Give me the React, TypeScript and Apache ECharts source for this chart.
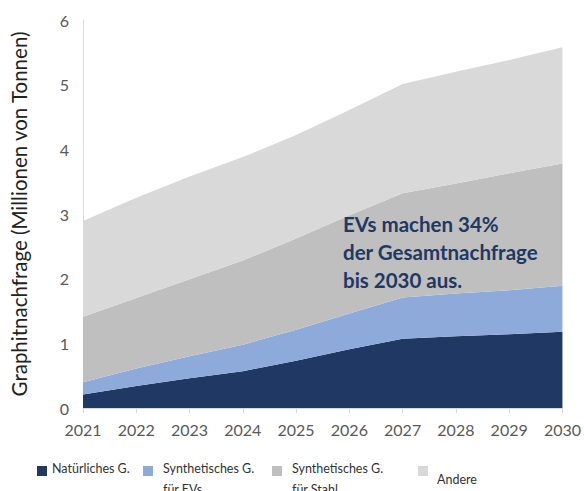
import React, { useEffect, useRef } from "react";
import * as echarts from "echarts";

const years = ["2021", "2022", "2023", "2024", "2025", "2026", "2027", "2028", "2029", "2030"];
// Per-series values (stacked), in millions of tonnes
const natural = [0.21, 0.34, 0.46, 0.57, 0.73, 0.91, 1.07, 1.11, 1.14, 1.18];
const syntheticEV = [0.19, 0.27, 0.34, 0.41, 0.48, 0.55, 0.64, 0.66, 0.68, 0.71];
const syntheticSteel = [1.01, 1.09, 1.19, 1.30, 1.41, 1.52, 1.61, 1.70, 1.81, 1.89];
const others = [1.48, 1.55, 1.59, 1.60, 1.60, 1.63, 1.69, 1.73, 1.75, 1.80];

const seriesNames = ["Natürliches G.", "Synthetisches G.\nfür EVs", "Synthetisches G.\nfür Stahl", "Andere"];
const colors = ["#203864", "#8eaadb", "#bfbfbf", "#d9d9d9"];
const annotation = "EVs machen 34%\nder Gesamtnachfrage\nbis 2030 aus.";

const FONT = "Lato";

export default function App() {
  const ref = useRef<HTMLDivElement>(null);
  useEffect(() => {
    if (!ref.current) return;
    const chart = echarts.init(ref.current, null, { renderer: "svg" });
    const data = [natural, syntheticEV, syntheticSteel, others];
    const legendX = [[37, 52], [143, 163], [272, 292], [418, 437]];
    const legendGraphics: any[] = [];
    seriesNames.forEach((n, i) => {
      legendGraphics.push({
        type: "rect",
        left: legendX[i][0],
        top: 466,
        shape: { width: 10, height: 10 },
        style: { fill: colors[i] },
      });
      legendGraphics.push({
        type: "text",
        left: legendX[i][1],
        top: i === 3 ? 469 : 458,
        style: {
          text: n,
          fill: "#333333",
          font: `12.5px ${FONT}`,
          lineHeight: 21,
        },
      });
    });
    chart.setOption({
      animation: false,
      textStyle: { fontFamily: FONT },
      grid: { left: 80, right: 21, top: 20, bottom: 83 },
      xAxis: {
        type: "category",
        data: years,
        boundaryGap: false,
        axisLine: { lineStyle: { color: "#d9d9d9", width: 1 } },
        axisTick: { show: true, length: 5, lineStyle: { color: "#d9d9d9" } },
        axisLabel: { color: "#595959", fontSize: 16, margin: 13, fontFamily: FONT },
      },
      yAxis: {
        type: "value",
        min: 0,
        max: 6,
        interval: 1,
        name: "Graphitnachfrage (Millionen von Tonnen)",
        nameLocation: "middle",
        nameRotate: 90,
        nameGap: 54,
        nameTextStyle: { color: "#222222", fontSize: 20.5, fontFamily: FONT },
        splitLine: { show: false },
        axisLine: { show: true, lineStyle: { color: "#d9d9d9", width: 1 } },
        axisTick: { show: false },
        axisLabel: { color: "#595959", fontSize: 16, margin: 14, fontFamily: FONT },
      },
      series: data.map((d, i) => ({
        name: seriesNames[i],
        type: "line",
        stack: "total",
        data: d,
        symbol: "none",
        lineStyle: { width: 0 },
        areaStyle: { color: colors[i], opacity: 1 },
        z: 2,
      })),
      graphic: [
        {
          type: "text",
          left: 343,
          top: 210,
          style: {
            text: annotation,
            fill: "#203864",
            font: `bold 20.5px ${FONT}`,
            lineHeight: 28,
          },
          z: 10,
        },
        ...legendGraphics,
      ],
    });
    return () => chart.dispose();
  }, []);
  return <div ref={ref} style={{ width: 584, height: 491, position: "absolute", left: 0, top: 0 }} />;
}
